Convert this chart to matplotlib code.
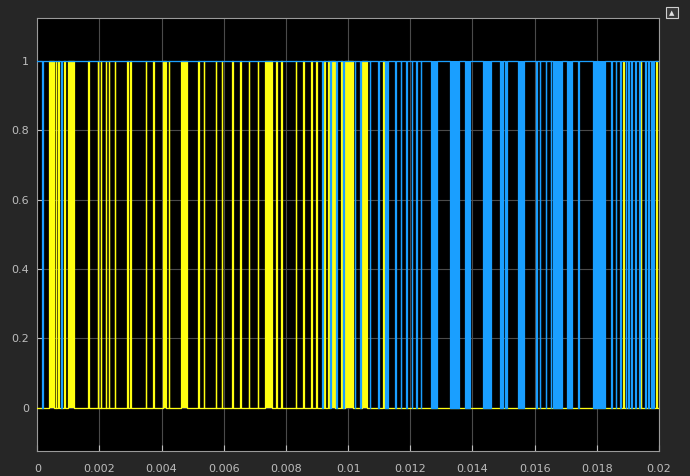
import numpy as np
import matplotlib
matplotlib.use("Agg")
import matplotlib.pyplot as plt

# ---- data (times in ms) ----
t_end_ms = 20.0
# yellow signal: low (0) with high pulses; bursts are dense switching (solid)
yellow_bursts = [(0.376, 0.547), (1.004, 1.197), (4.034, 4.156), (4.613, 4.816),
                 (7.325, 7.541), (9.416, 9.577), (9.899, 10.156), (10.446, 10.607)]
yellow_pulses = [0.602, 0.688, 0.875, 1.641, 1.953, 2.049, 2.210, 2.306, 2.499,
                 2.902, 3.005, 3.497, 3.732, 4.237, 5.186, 5.363, 5.749, 5.942,
                 6.279, 6.537, 6.810, 7.100, 7.701, 7.862, 8.322, 8.557, 8.827,
                 8.988, 9.233, 9.362, 9.793, 11.131, 18.858, 19.421, 19.926]
# blue signal: high (1) with low dips; bursts are dense switching (solid)
blue_bursts = [(11.186, 11.292), (12.665, 12.858), (13.276, 13.566), (13.759, 13.920),
               (14.348, 14.595), (14.885, 14.982), (15.046, 15.127), (15.474, 15.673),
               (16.580, 16.870), (17.050, 17.211), (17.867, 18.005), (18.047, 18.263)]
blue_dips = [0.167, 0.779, 9.175, 9.439, 9.632, 9.844, 10.220, 10.397, 10.703,
             10.970, 11.523, 11.700, 11.877, 12.054, 12.199, 12.344, 16.066,
             16.172, 16.365, 16.526, 17.410, 18.478, 18.617, 18.762, 18.939,
             19.019, 19.122, 19.244, 19.373, 19.566, 19.665, 19.767, 19.823]
pulse_width_ms = 0.018

xticks = [0, 0.002, 0.004, 0.006, 0.008, 0.01, 0.012, 0.014, 0.016, 0.018, 0.02]
xticklabels = ["0", "0.002", "0.004", "0.006", "0.008", "0.01", "0.012",
               "0.014", "0.016", "0.018", "0.02"]
yticks = [0, 0.2, 0.4, 0.6, 0.8, 1]
yticklabels = ["0", "0.2", "0.4", "0.6", "0.8", "1"]

YEL = "#FFFF11"
BLU = "#1A9FFF"


def step_signal(intervals, base, active):
    intervals = sorted(intervals)
    ts = [0.0]
    ys = [base]
    for s, e in intervals:
        ts += [s * 1e-3, s * 1e-3, e * 1e-3, e * 1e-3]
        ys += [base, active, active, base]
    ts.append(t_end_ms * 1e-3)
    ys.append(base)
    return np.array(ts), np.array(ys)


fig = plt.figure(figsize=(6.9, 4.76), dpi=100, facecolor="#262626")
ax = fig.add_axes([0.054, 0.0525, 0.901, 0.9105])
ax.set_facecolor("black")

y_int = list(yellow_bursts) + [(c - pulse_width_ms / 2, c + pulse_width_ms / 2) for c in yellow_pulses]
b_int = list(blue_bursts) + [(c - pulse_width_ms / 2, c + pulse_width_ms / 2) for c in blue_dips]

ty, yy = step_signal(y_int, 0, 1)
tb, yb = step_signal(b_int, 1, 0)

for s, e in yellow_bursts:
    ax.fill_between([s * 1e-3, e * 1e-3], 0, 1, color=YEL, lw=0, zorder=2)
ax.plot(ty, yy, color=YEL, lw=0.9, zorder=3)
for s, e in blue_bursts:
    ax.fill_between([s * 1e-3, e * 1e-3], 0, 1, color=BLU, lw=0, zorder=4)
ax.plot(tb, yb, color=BLU, lw=0.9, zorder=5)

ax.set_xlim(0, 0.02)
ax.set_ylim(-0.125, 1.125)
ax.set_xticks(xticks)
ax.set_xticklabels(xticklabels)
ax.set_yticks(yticks)
ax.set_yticklabels(yticklabels)
ax.grid(True, color="#4a4a4a", lw=0.8, zorder=1)
ax.set_axisbelow(True)
ax.tick_params(colors="#bdbdbd", labelsize=8, direction="in", length=4, pad=9)
ax.tick_params(axis="y", pad=6)
for sp in ax.spines.values():
    sp.set_color("#9a9a9a")
    sp.set_linewidth(0.8)

# small toolbar icon at top right
icon = plt.Rectangle((0.965, 0.962), 0.018, 0.024, transform=fig.transFigure,
                     facecolor="#3a3a3a", edgecolor="#cfcfcf", lw=0.8)
fig.patches.append(icon)
fig.text(0.974, 0.972, "▲", color="#e0e0e0", fontsize=5, ha="center", va="center")

fig.savefig("out.png", dpi=100, facecolor=fig.get_facecolor())
